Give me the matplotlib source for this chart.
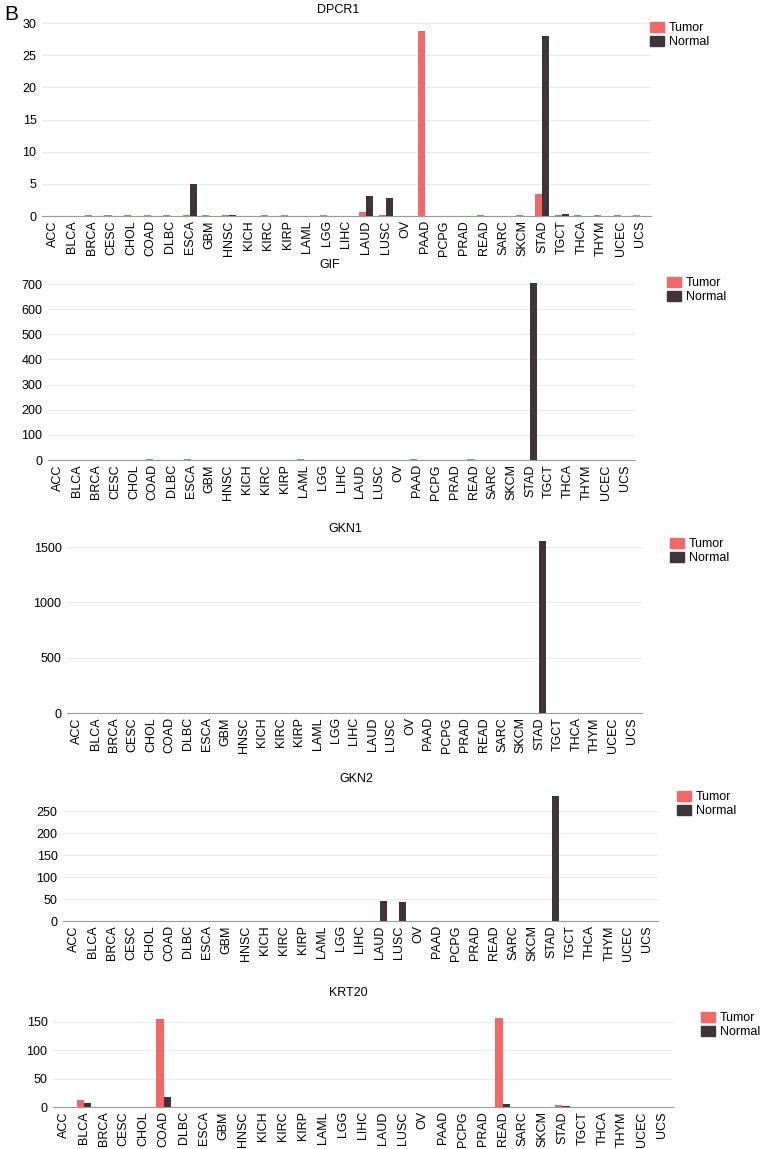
import numpy as np
import matplotlib
matplotlib.use('Agg')
import matplotlib.pyplot as plt
from matplotlib.patches import Patch

plt.rcParams['font.family'] = ['Liberation Sans', 'DejaVu Sans']

cancers = ['ACC', 'BLCA', 'BRCA', 'CESC', 'CHOL', 'COAD', 'DLBC', 'ESCA', 'GBM', 'HNSC',
           'KICH', 'KIRC', 'KIRP', 'LAML', 'LGG', 'LIHC', 'LAUD', 'LUSC', 'OV', 'PAAD',
           'PCPG', 'PRAD', 'READ', 'SARC', 'SKCM', 'STAD', 'TGCT', 'THCA', 'THYM', 'UCEC', 'UCS']

# expression values, tumor / normal per cancer type
dpcr1_tumor = [0.02, 0.02, 0.08, 0.08, 0.08, 0.08, 0.08, 0.2, 0.08, 0.08,
               0.02, 0.08, 0.2, 0.02, 0.08, 0.02, 0.6, 0.08, 0.05, 28.8,
               0.02, 0.02, 0.08, 0.02, 0.08, 3.4, 0.15, 0.08, 0.08, 0.08, 0.08]
dpcr1_normal = [0.05, 0.05, 0.05, 0.05, 0.05, 0.05, 0.0, 5.0, 0.05, 0.2,
                0.05, 0.05, 0.05, 0.05, 0.05, 0.05, 3.1, 2.8, 0.05, 0.05,
                0.05, 0.05, 0.05, 0.05, 0.05, 28.0, 0.25, 0.05, 0.05, 0.05, 0.05]

gif_tumor = [0.5, 0.3, 0.3, 0.3, 0.3, 2, 0.3, 2, 0.3, 0.3,
             0.3, 0.3, 0.3, 2, 0.3, 0.3, 0.3, 0.3, 0.5, 2,
             0.3, 0.3, 2, 0.3, 0.3, 1.5, 0.3, 0.3, 0.3, 0.3, 0.3]
gif_normal = [1.5, 0.5, 0.5, 0.5, 1.5, 1.5, 1.5, 1.5, 0.5, 0.5,
              0.5, 0.5, 0.5, 1.5, 0.5, 0.5, 0.5, 0.5, 1.5, 1.5,
              0.5, 1.5, 1.5, 0.5, 0.5, 705, 1.5, 0.5, 1.5, 1.5, 1.5]

gkn1_tumor = [1, 3, 1, 1, 1, 1, 1, 3, 1, 1,
              1, 1, 1, 1, 1, 1, 1, 1, 1, 3,
              1, 1, 1, 1, 1, 3, 1, 1, 1, 1, 1]
gkn1_normal = [3, 3, 3, 3, 2, 3, 2, 3, 2, 2,
               2, 2, 2, 2, 2, 3, 3, 3, 3, 3,
               3, 3, 3, 3, 3, 1555, 3, 2, 2, 3, 3]

gkn2_tumor = [0.3, 0.2, 0.2, 0.3, 0.2, 0.3, 0.5, 0.5, 0.2, 0.2,
              0.2, 0.2, 0.2, 0.2, 0.2, 0.2, 1.0, 0.8, 0.2, 0.8,
              0.2, 0.2, 0.3, 0.3, 0.3, 0.8, 0.3, 0.2, 0.2, 0.2, 0.2]
gkn2_normal = [0.8, 0.3, 0.3, 0.8, 0.3, 0.8, 0.3, 0.8, 0.3, 0.3,
               0.3, 0.3, 0.3, 0.3, 0.3, 0.3, 46, 44, 0.8, 0.8,
               0.3, 0.3, 0.8, 0.8, 0.8, 285, 0.8, 0.3, 0.3, 0.3, 0.3]

krt20_tumor = [0.2, 12, 0.3, 0.3, 0.3, 155, 0.2, 0.5, 0.2, 0.5,
               0.2, 0.5, 0.5, 0.2, 0.2, 0.5, 0.5, 0.5, 0.3, 0.5,
               0.2, 0.5, 157, 0.3, 0.3, 3, 0.3, 0.2, 0.2, 0.3, 0.3]
krt20_normal = [0.3, 7, 0.5, 0.5, 0.5, 17, 0.3, 0.5, 0.3, 0.5,
                0.5, 0.5, 0.3, 0.3, 0.3, 0.5, 0.3, 0.3, 0.5, 0.5,
                0.3, 0.5, 6, 0.5, 0.5, 2, 0.5, 0.3, 0.3, 0.5, 0.5]

W, H = 765, 1149
tumor_color = '#f26868'
normal_color = '#3d3537'

# (gene, tumor, normal, yticks, ymax, left, right, y0 px, top-tick px, title x, title y, legend x, legend y)
panels = [
    ('DPCR1', dpcr1_tumor, dpcr1_normal, [0, 5, 10, 15, 20, 25, 30], 30.3, 42, 651, 216, 23, 338, 10, 650, 22),
    ('GIF', gif_tumor, gif_normal, [0, 100, 200, 300, 400, 500, 600, 700], 710, 48, 635, 460, 284, 330, 265, 667, 277),
    ('GKN1', gkn1_tumor, gkn1_normal, [0, 500, 1000, 1500], 1600, 67, 642, 713, 547, 345, 529, 670, 538),
    ('GKN2', gkn2_tumor, gkn2_normal, [0, 50, 100, 150, 200, 250], 290, 63, 658, 921, 811, 356, 779, 677, 791),
    ('KRT20', krt20_tumor, krt20_normal, [0, 50, 100, 150], 160, 53, 673, 1107, 1022, 348, 993, 701, 1012),
]

fig = plt.figure(figsize=(W / 100, H / 100), dpi=100)
x = np.arange(len(cancers))
bw = 0.36

for gene, tum, nor, ticks, ymax, left, right, y0, ytk, tx, ty, lx, ly in panels:
    px_per_unit = (y0 - ytk) / ticks[-1]
    top = y0 - ymax * px_per_unit
    ax = fig.add_axes([left / W, 1 - y0 / H, (right - left) / W, (y0 - top) / H])
    ax.bar(x - bw / 2, tum, width=bw, color=tumor_color, zorder=3)
    ax.bar(x + bw / 2, nor, width=bw, color=normal_color, zorder=3)
    ax.set_xlim(-0.55, len(cancers) - 0.45)
    ax.set_ylim(0, ymax)
    ax.set_yticks(ticks)
    ax.set_xticks(x)
    ax.set_xticklabels(cancers, rotation=90, fontsize=9)
    ax.tick_params(axis='y', labelsize=9, length=0, pad=4)
    ax.tick_params(axis='x', length=0, pad=3)
    ax.grid(axis='y', color='#ececec', linewidth=0.8, zorder=0)
    for s in ['top', 'right', 'left']:
        ax.spines[s].set_visible(False)
    ax.spines['bottom'].set_color('#9a9a9a')
    ax.spines['bottom'].set_linewidth(0.8)
    fig.text(tx / W, 1 - ty / H, gene, ha='center', va='center', fontsize=9)
    handles = [Patch(color=tumor_color, label='Tumor'), Patch(color=normal_color, label='Normal')]
    fig.legend(handles=handles, loc='upper left', bbox_to_anchor=(lx / W, 1 - ly / H),
               frameon=False, fontsize=9, handlelength=1.1, handleheight=0.8,
               handletextpad=0.4, labelspacing=0.15, borderpad=0, borderaxespad=0)

fig.text(4 / W, 1 - 14 / H, 'B', ha='left', va='center', fontsize=15)

fig.savefig('out.png', dpi=100)
